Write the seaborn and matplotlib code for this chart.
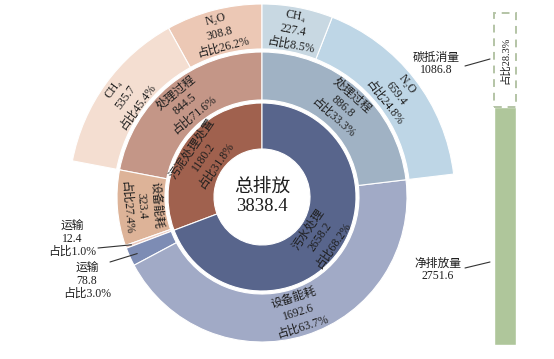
import matplotlib

matplotlib.use("Agg")

import matplotlib.pyplot as plt  # noqa: E402
import numpy as np  # noqa: E402
import seaborn as sns  # noqa: E402

# ---- dados (t CO2e) ----
total = 3838.4
total_label = "总排放"

inner_names = ["污泥处理处置", "污水处理"]
inner_values = [1180.2, 2658.2]
inner_shares = [31.8, 68.2]

mid_names = ["处理过程", "设备能耗", "运输", "运输", "设备能耗", "处理过程"]
mid_values = [844.5, 323.4, 12.4, 78.8, 1692.6, 886.8]
mid_shares = [71.6, 27.4, 1.0, 3.0, 63.7, 33.3]

sludge_gas_names = ["N₂O", "CH₄"]
sludge_gas_values = [308.8, 535.7]
sludge_gas_shares = [26.2, 45.4]

sewage_gas_names = ["N₂O", "CH₄"]
sewage_gas_values = [659.4, 227.4]
sewage_gas_shares = [24.8, 8.5]

balance_names = ["碳抵消量", "净排放量"]
balance_values = [1086.8, 2751.6]
offset_share = 28.3

# ---- estilo ----
inner_colors = ["#A0614E", "#58658C"]
mid_colors = ["#C49687", "#DDB398", "#EBC9BE", "#7D8CB4", "#A1AAC6", "#A0B2C4"]
outer_colors = ["#ECC8B5", "#F4DED1", "none", "#BED6E6", "#C8D8E2"]
green = "#AFC69B"
dash_color = "#B4C4A6"
text_color = "#1E1E1E"

sns.set_theme(style="white")
plt.rcParams["font.family"] = ["Liberation Serif", "Noto Sans CJK SC", "DejaVu Sans"]

W, H = 554, 359
CX, CY = 262, H - 197

fig = plt.figure(figsize=(W / 100, H / 100), dpi=100)
ax = fig.add_axes([0, 0, 1, 1])

edge = dict(edgecolor="white", linewidth=0.8)
ax.pie(inner_values, radius=94, center=(CX, CY), startangle=90, counterclock=True,
       colors=inner_colors, wedgeprops=dict(width=46, **edge))
ax.pie(mid_values, radius=145, center=(CX, CY), startangle=90, counterclock=True,
       colors=mid_colors, wedgeprops=dict(width=48, **edge))
gap = total - sum(sludge_gas_values) - sum(sewage_gas_values)
outer_values = sludge_gas_values + [gap] + sewage_gas_values
outer_wedges, _ = ax.pie(outer_values, radius=193, center=(CX, CY), startangle=90,
                         counterclock=True, colors=outer_colors,
                         wedgeprops=dict(width=45, **edge))
outer_wedges[2].set_visible(False)

ax.set_xlim(0, W)
ax.set_ylim(0, H)
ax.set_aspect("equal")
ax.axis("off")


def mid_angles(values):
    values = np.asarray(values, dtype=float)
    ends = np.cumsum(values)
    return 90 + 360 * (ends - values / 2) / values.sum()


def polar(theta, r):
    t = np.deg2rad(theta)
    return CX + r * np.cos(t), CY + r * np.sin(t)


def wedge_label(theta, r, text):
    x, y = polar(theta, r)
    rot = theta - 90
    while rot > 90:
        rot -= 180
    while rot <= -90:
        rot += 180
    ax.text(x, y, text, rotation=rot, rotation_mode="anchor", ha="center",
            va="center", fontsize=8.5, linespacing=1.3, color=text_color)


for theta, name, v, s in zip(mid_angles(inner_values), inner_names, inner_values, inner_shares):
    wedge_label(theta, 71, f"{name}\n{v:.1f}\n占比{s:.1f}%")

mid_theta = mid_angles(mid_values)
for theta, name, v, s in zip(mid_theta, mid_names, mid_values, mid_shares):
    if name == "运输":
        continue
    wedge_label(theta, 121, f"{name}\n{v:.1f}\n占比{s:.1f}%")

outer_names = sludge_gas_names + [""] + sewage_gas_names
outer_shares = sludge_gas_shares + [0] + sewage_gas_shares
for theta, name, v, s in zip(mid_angles(outer_values), outer_names, outer_values, outer_shares):
    if not name:
        continue
    wedge_label(theta, 169, f"{name}\n{v:.1f}\n占比{s:.1f}%")

# rótulos externos dos segmentos de transporte
callouts = [(2, (72, 239), (98, 248), 139), (3, (87, 281), (110, 262), 137)]
for idx, (tx, ty), (lx, ly), r in callouts:
    ax.text(tx, H - ty, f"{mid_names[idx]}\n{mid_values[idx]:.1f}\n占比{mid_shares[idx]:.1f}%",
            ha="center", va="center", fontsize=8.5, linespacing=1.05, color=text_color)
    ex, ey = polar(mid_theta[idx], r)
    ax.plot([lx, ex], [H - ly, ey], color="#333333", linewidth=0.8)

ax.text(CX, CY, f"{total_label}\n{total:.1f}", ha="center", va="center",
        fontsize=13.5, linespacing=1.15, color=text_color)

# rótulos do balanço
ax.text(436, H - 64, f"{balance_names[0]}\n{balance_values[0]:.1f}", ha="center",
        va="center", fontsize=8.5, linespacing=1.05, color=text_color)
ax.plot([465, 490], [H - 66, H - 59], color="#333333", linewidth=0.8)
ax.text(438, H - 270, f"{balance_names[1]}\n{balance_values[1]:.1f}", ha="center",
        va="center", fontsize=8.5, linespacing=1.05, color=text_color)
ax.plot([465, 490], [H - 268, H - 262], color="#333333", linewidth=0.8)

# barra de balanço (líquido + compensação)
bax = fig.add_axes([494 / W, (H - 345) / H, 22 / W, 332 / H])
sns.barplot(x=[balance_names[1]], y=[balance_values[1]], color=green, width=1,
            saturation=1, ax=bax)
bax.bar(0, balance_values[0], bottom=balance_values[1], width=1, fill=False,
        edgecolor=dash_color, linestyle=(0, (4, 3)), linewidth=1.4, clip_on=False)
bax.text(0, balance_values[1] + balance_values[0] * 0.5, f"占比{offset_share:.1f}%",
         rotation=90, ha="center", va="center", fontsize=7.5, color=text_color)
bax.set_xlim(-0.5, 0.5)
bax.set_ylim(0, total)
bax.axis("off")

fig.savefig("out.png", dpi=100)
plt.close(fig)
